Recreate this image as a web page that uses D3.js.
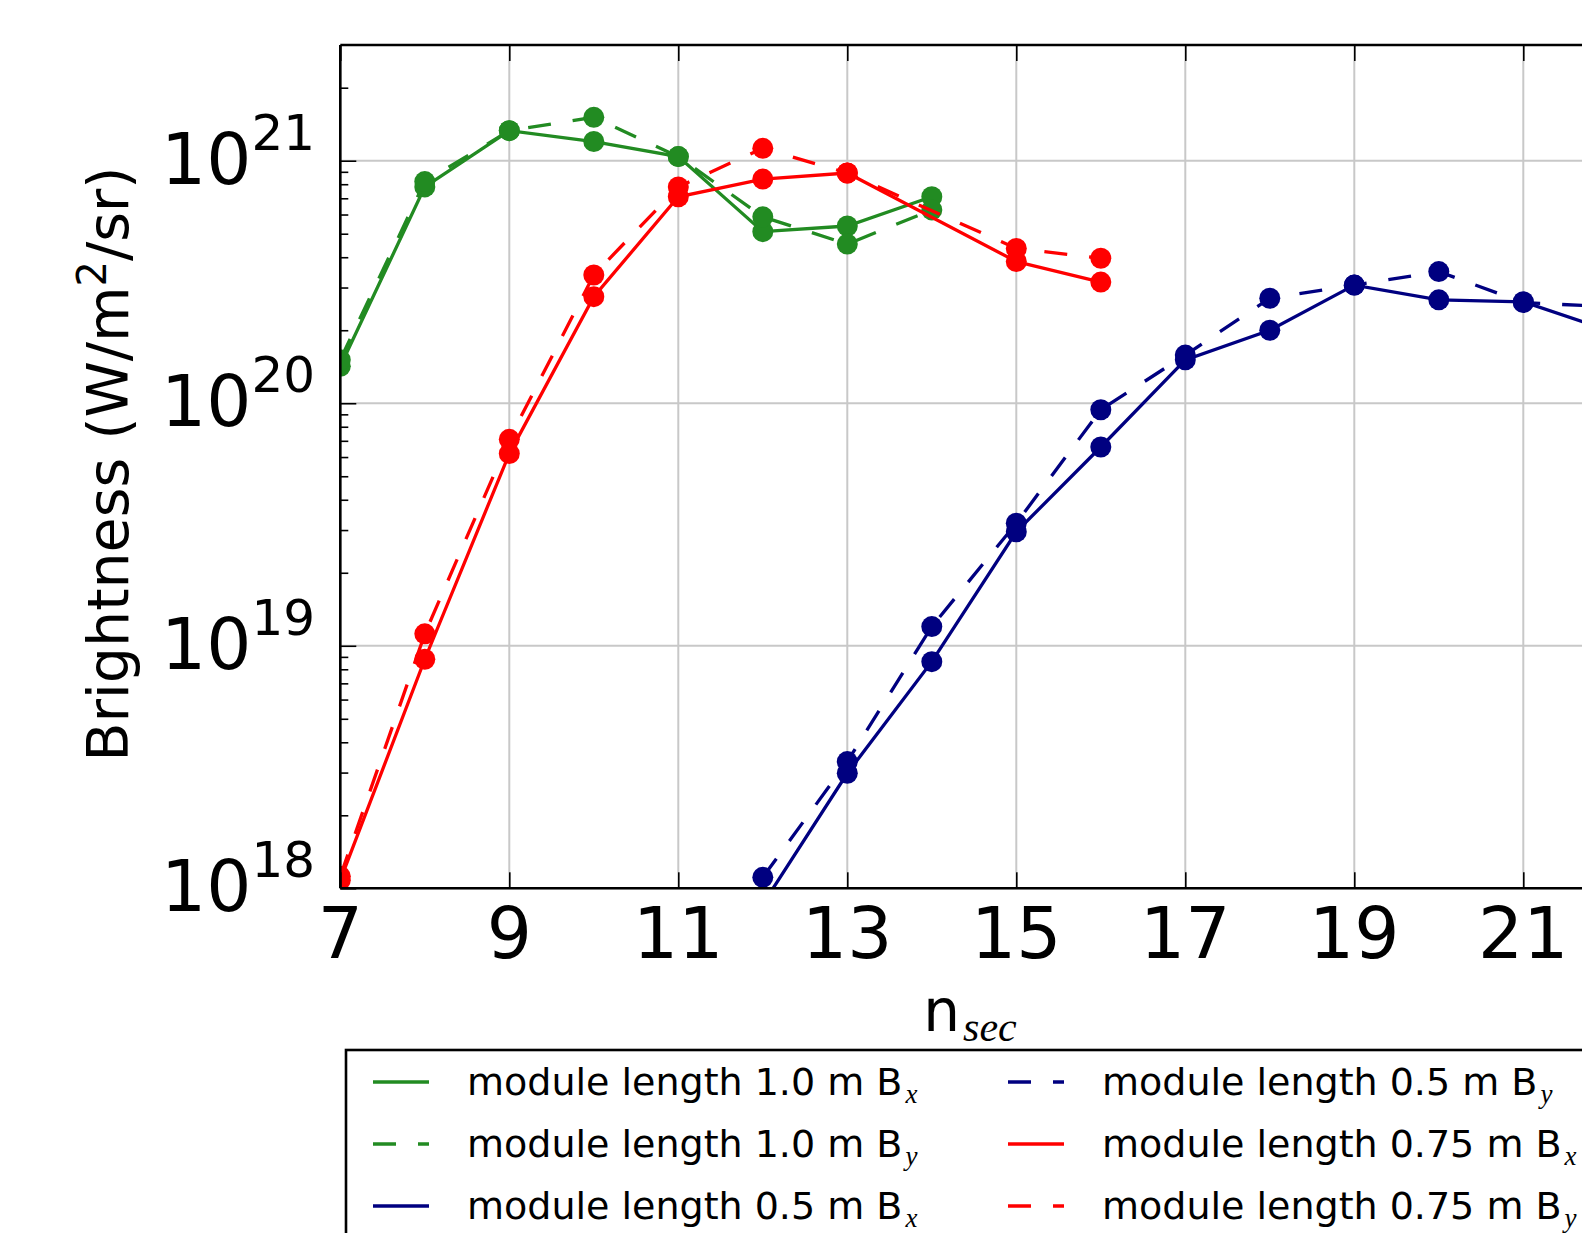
<!DOCTYPE html>
<html>
<head>
<meta charset="utf-8">
<script src="https://cdn.jsdelivr.net/npm/d3@7"></script>
<style>
body { margin: 0; background: #fff; }
text { font-family: "DejaVu Sans", sans-serif; fill: #000; }
</style>
</head>
<body>
<svg id="chart" width="1582" height="1233"></svg>
<script>
// n_sec values and brightness (W/m^2/sr)
const nGreen = [7, 8, 9, 10, 11, 12, 13, 14];
const green_bx = [1.42e20, 7.8e20, 1.33e21, 1.2e21, 1.04e21, 5.1e20, 5.38e20, 7.1e20];
const green_by = [1.51e20, 8.2e20, 1.33e21, 1.51e21, 1.04e21, 5.87e20, 4.53e20, 6.27e20];

const nBlue = [12, 13, 14, 15, 16, 17, 18, 19, 20, 21, 22];
const blue_bx = [8.6e17, 2.98e18, 8.6e18, 2.95e19, 6.6e19, 1.51e20, 2.0e20, 3.07e20, 2.67e20, 2.62e20, 2.0e20];
const blue_by = [1.11e18, 3.33e18, 1.2e19, 3.2e19, 9.4e19, 1.58e20, 2.71e20, 3.07e20, 3.49e20, 2.6e20, 2.5e20];

const nRed = [7, 8, 9, 10, 11, 12, 13, 15, 16];
const red_bx = [1.08e18, 8.8e18, 6.2e19, 2.75e20, 7.1e20, 8.4e20, 8.9e20, 3.84e20, 3.16e20];
const red_by = [1.12e18, 1.12e19, 7.1e19, 3.38e20, 7.8e20, 1.125e21, 8.9e20, 4.35e20, 3.96e20];

const xTicks = [7, 9, 11, 13, 15, 17, 19, 21];
const yTicks = [1e18, 1e19, 1e20, 1e21];
const yTickExp = ["18", "19", "20", "21"];

const seriesLabels = ["module length 1.0 m B_x", "module length 1.0 m B_y", "module length 0.5 m B_x",
                      "module length 0.5 m B_y", "module length 0.75 m B_x", "module length 0.75 m B_y"];
const seriesColors = ["#228b22", "#228b22", "#000080", "#000080", "#ff0000", "#ff0000"];
const seriesDashed = [false, true, false, true, false, true];

const series = [
  d3.zip(nGreen, green_bx), d3.zip(nGreen, green_by),
  d3.zip(nBlue, blue_bx), d3.zip(nBlue, blue_by),
  d3.zip(nRed, red_bx), d3.zip(nRed, red_by)
];

const svg = d3.select("#chart");
svg.append("rect").attr("width", 1582).attr("height", 1233).attr("fill", "#fff");

const axL = 340.3, axR = 1607.8, axT = 45, axB = 888.3;
const x = d3.scaleLinear().domain([7, 22]).range([axL, axR]);
const y = d3.scaleLog().domain([1e18, 3e21]).range([axB, axT]);

svg.append("clipPath").attr("id", "clip")
  .append("rect").attr("x", axL).attr("y", axT).attr("width", axR - axL).attr("height", axB - axT);

// grid
const grid = svg.append("g").attr("stroke", "#c8c8c8").attr("stroke-width", 2);
grid.selectAll(".gx").data(xTicks).enter().append("line")
  .attr("x1", d => x(d)).attr("x2", d => x(d)).attr("y1", axT).attr("y2", axB);
grid.selectAll(".gy").data(yTicks).enter().append("line")
  .attr("x1", axL).attr("x2", axR).attr("y1", d => y(d)).attr("y2", d => y(d));

// series
const line = d3.line().x(d => x(d[0])).y(d => y(d[1]));
const plot = svg.append("g").attr("clip-path", "url(#clip)");
series.forEach((s, i) => {
  const g = plot.append("g");
  g.append("path").datum(s)
    .attr("d", line)
    .attr("fill", "none")
    .attr("stroke", seriesColors[i])
    .attr("stroke-width", 3.3)
    .attr("stroke-dasharray", seriesDashed[i] ? "23,22" : null);
  g.selectAll("circle").data(s).enter().append("circle")
    .attr("cx", d => x(d[0])).attr("cy", d => y(d[1])).attr("r", 10.5)
    .attr("fill", seriesColors[i]);
});

// ticks, all pointing inward
function styleAxis(g) {
  g.select(".domain").remove();
  g.selectAll("line").attr("stroke", "#000").attr("stroke-width", 1.6);
}
svg.append("g").attr("transform", "translate(0," + axB + ")")
  .call(d3.axisBottom(x).tickValues(xTicks).tickSize(-16).tickSizeOuter(0).tickFormat(""))
  .call(styleAxis);
svg.append("g").attr("transform", "translate(0," + axT + ")")
  .call(d3.axisTop(x).tickValues(xTicks).tickSize(-16).tickSizeOuter(0).tickFormat(""))
  .call(styleAxis);
svg.append("g").attr("transform", "translate(" + axL + ",0)")
  .call(d3.axisLeft(y).tickValues(yTicks).tickSize(-16).tickSizeOuter(0).tickFormat(""))
  .call(styleAxis);
const minor = [];
[18, 19, 20, 21].forEach(e => d3.range(2, 10).forEach(k => { if (k * Math.pow(10, e) < 3e21) minor.push(k * Math.pow(10, e)); }));
svg.append("g").attr("transform", "translate(" + axL + ",0)")
  .call(d3.axisLeft(y).tickValues(minor).tickSize(-8).tickSizeOuter(0).tickFormat(""))
  .call(styleAxis);

// spines
const spines = svg.append("g").attr("stroke", "#000").attr("stroke-width", 2.6);
spines.append("line").attr("x1", axL).attr("x2", axL).attr("y1", axT).attr("y2", axB);
spines.append("line").attr("x1", axL).attr("x2", axR).attr("y1", axT).attr("y2", axT);
spines.append("line").attr("x1", axL).attr("x2", axR).attr("y1", axB).attr("y2", axB);

// tick labels
svg.selectAll(".xl").data(xTicks).enter().append("text")
  .attr("x", d => x(d)).attr("y", 958)
  .attr("text-anchor", "middle").attr("font-size", 71)
  .text(d => d);
yTicks.forEach((v, i) => {
  const t = svg.append("text").attr("x", 315).attr("y", y(v) + 23)
    .attr("text-anchor", "end").attr("font-size", 71);
  t.append("tspan").text("10");
  t.append("tspan").attr("font-size", 50).attr("dy", -34).text(yTickExp[i]);
});

// axis labels
const yl = svg.append("text").attr("transform", "translate(128,464) rotate(-90)")
  .attr("text-anchor", "middle").attr("font-size", 57);
yl.append("tspan").text("Brightness (W/m");
yl.append("tspan").attr("font-size", 40).attr("dy", -22).text("2");
yl.append("tspan").attr("dy", 22).text("/sr)");

const xl = svg.append("text").attr("x", 970).attr("y", 1031)
  .attr("text-anchor", "middle").attr("font-size", 58);
xl.append("tspan").text("n");
xl.append("tspan").attr("dx", 3).attr("dy", 10).attr("font-size", 42)
  .attr("font-family", "Liberation Serif").attr("font-style", "italic").text("sec");

// legend
const legend = svg.append("g");
legend.append("rect").attr("x", 346).attr("y", 1050).attr("width", 1254).attr("height", 300)
  .attr("fill", "#fff").attr("stroke", "#000").attr("stroke-width", 2.6);
seriesLabels.forEach((lab, i) => {
  const col = Math.floor(i / 3), row = i % 3;
  const hx = col === 0 ? 373 : 1008;
  const tx = col === 0 ? 467 : 1102;
  const hy = 1082 + row * 62;
  legend.append("line").attr("x1", hx).attr("x2", hx + 56).attr("y1", hy).attr("y2", hy)
    .attr("stroke", seriesColors[i]).attr("stroke-width", 3.3)
    .attr("stroke-dasharray", seriesDashed[i] ? "23,22" : null);
  const parts = lab.split("_");
  const t = legend.append("text").attr("x", tx).attr("y", hy + 13).attr("font-size", 38);
  t.append("tspan").text(parts[0]);
  t.append("tspan").attr("dx", 3).attr("dy", 8).attr("font-size", 27)
    .attr("font-family", "Liberation Serif").attr("font-style", "italic").text(parts[1]);
});
</script>
</body>
</html>
